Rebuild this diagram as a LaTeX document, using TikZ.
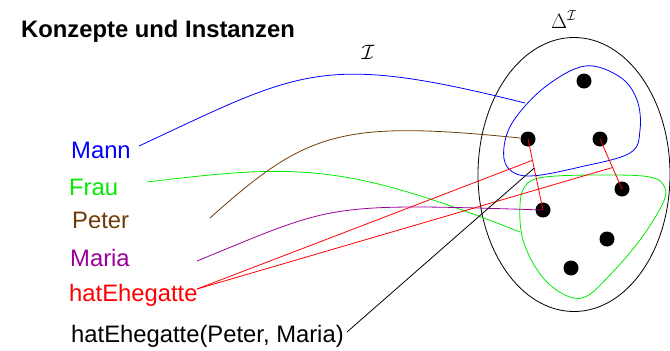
\documentclass[tikz,border=0pt]{standalone}
\usepackage{fontspec}
\setmainfont{Liberation Sans}
\usetikzlibrary{calc}
\definecolor{mybrown}{RGB}{110,60,10}
\definecolor{mypurple}{RGB}{155,0,155}
\definecolor{mygreen}{RGB}{0,235,0}
\definecolor{myblue}{RGB}{0,0,255}
\definecolor{myred}{RGB}{255,0,0}
\begin{document}
\begin{tikzpicture}[x=1pt,y=-1pt,
  lbl/.style={anchor=base west, inner sep=0pt, font=\fontsize{23.8}{28}\selectfont},
  mathlbl/.style={inner sep=0pt, font=\fontsize{22}{26}\selectfont},
  dot/.style={circle, fill=black, inner sep=0pt, minimum size=15pt},
  conn/.style={line width=0.8pt},
]
\useasboundingbox (0,0) rectangle (670,351);

% title
\node[lbl, font=\fontsize{23.8}{28}\selectfont\bfseries] (title) at (21,37) {Konzepte und Instanzen};

% math labels
\node[mathlbl] (interp) at (368,52) {$\mathcal{I}$};
\node[mathlbl, anchor=base west] (delta) at (551,28) {$\Delta^{\mathcal{I}}$};

% domain
\draw[conn, black] (574,174.5) ellipse [x radius=96, y radius=137];

% concept regions
\draw[conn, myblue] plot[smooth cycle, tension=0.6] coordinates {
  (585,66) (620,77) (637,100) (640,130) (630,153) (580,167) (530,176)
  (508,168) (504,147) (514,120) (545,87)};
\draw[conn, mygreen] plot[smooth cycle, tension=0.6] coordinates {
  (545,177) (600,175) (650,177) (665,188) (662,205) (640,240) (610,275)
  (585,297) (563,294) (540,274) (523,240) (520,205) (526,185)};

% individuals
\node[dot] (d1) at (584,81) {};
\node[dot] (d2) at (528,139) {};
\node[dot] (d3) at (600,139) {};
\node[dot] (d4) at (622,189) {};
\node[dot] (d5) at (543,210) {};
\node[dot] (d6) at (607,239) {};
\node[dot] (d7) at (571,268) {};

% role pairs
\draw[conn, myred] (d2.center) -- (d5.center);
\draw[conn, myred] (d3.center) -- (d4.center);

% labels
\node[lbl, text=myblue] (mann) at (71,158) {Mann};
\node[lbl, text=mygreen] (frau) at (69,195) {Frau};
\node[lbl, text=mybrown] (peter) at (72,228) {Peter};
\node[lbl, text=mypurple] (maria) at (70,266) {Maria};
\node[lbl, text=myred] (hat) at (69,301) {hatEhegatte};
\node[lbl] (fact) at (71,342) {hatEhegatte(Peter, Maria)};

% connector ends
\coordinate (mannS) at (139,146);
\coordinate (mannE) at (525,103);
\coordinate (frauS) at (147,182);
\coordinate (frauE) at (520,232);
\coordinate (peterS) at (210,218);
\coordinate (peterE) at (520,138);
\coordinate (mariaS) at (197,261);
\coordinate (hatS) at (197,289);
\coordinate (factS) at (347,332);
\coordinate (pairA) at ($(d2.center)!0.30!(d5.center)$);
\coordinate (pairB) at ($(d3.center)!0.57!(d4.center)$);
\coordinate (factE) at ($(d2.center)!0.41!(d5.center)$);

% connectors
\draw[conn, myblue] (mannS) .. controls (302,70) and (321,52) .. (mannE);
\draw[conn, mygreen] (frauS) .. controls (297,164) and (343,162) .. (frauE);
\draw[conn, mybrown] (peterS) .. controls (307,131) and (341,120) .. (peterE);
\draw[conn, mypurple] (mariaS) .. controls (336,204) and (323,203) .. (d5.center);
\draw[conn, myred] (hatS) -- (pairA);
\draw[conn, myred] (hatS) -- (pairB);
\draw[conn, black] (factS) -- (factE);
\end{tikzpicture}
\end{document}
